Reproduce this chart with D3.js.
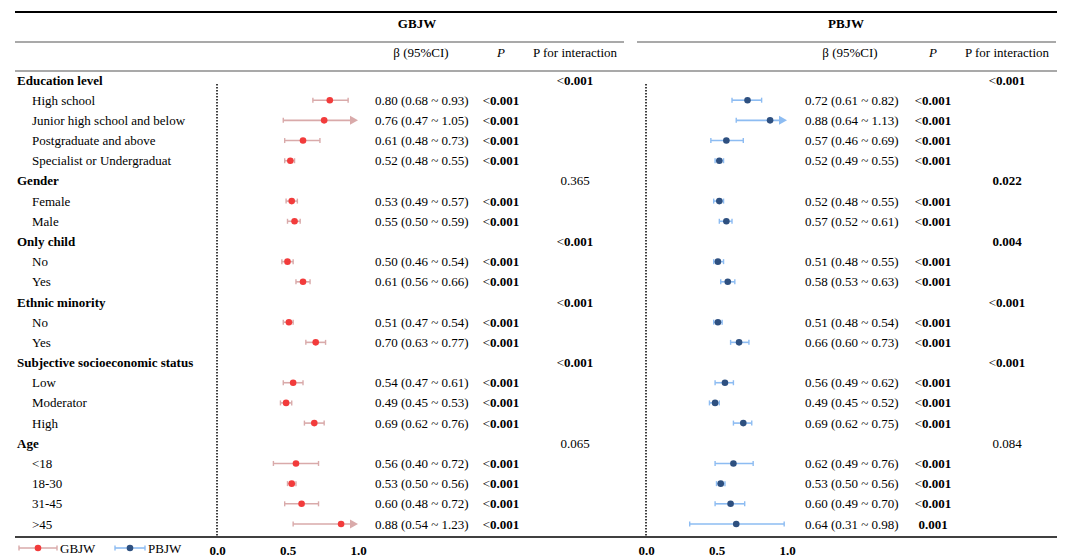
<!DOCTYPE html>
<html>
<head>
<meta charset="utf-8">
<script src="https://cdn.jsdelivr.net/npm/d3@7"></script>
<style>
  body { margin: 0; background: #fff; }
  svg text { font-family: "Liberation Serif", "Times New Roman", serif; font-size: 13px; fill: #000; }
</style>
</head>
<body>
<svg id="chart" width="1080" height="557"></svg>
<script>
// Groups and their levels, read row by row from the table
const groups = ["Education level", "Gender", "Only child", "Ethnic minority",
                "Subjective socioeconomic status", "Age"];
const levels = [
  ["High school", "Junior high school and below", "Postgraduate and above", "Specialist or Undergraduat"],
  ["Female", "Male"],
  ["No", "Yes"],
  ["No", "Yes"],
  ["Low", "Moderator", "High"],
  ["<18", "18-30", "31-45", ">45"]
];

// GBJW estimates
const gbEst  = [0.80, 0.76, 0.61, 0.52, 0.53, 0.55, 0.50, 0.61, 0.51, 0.70, 0.54, 0.49, 0.69, 0.56, 0.53, 0.60, 0.88];
const gbLow  = [0.68, 0.47, 0.48, 0.48, 0.49, 0.50, 0.46, 0.56, 0.47, 0.63, 0.47, 0.45, 0.62, 0.40, 0.50, 0.48, 0.54];
const gbHigh = [0.93, 1.05, 0.73, 0.55, 0.57, 0.59, 0.54, 0.66, 0.54, 0.77, 0.61, 0.53, 0.76, 0.72, 0.56, 0.72, 1.23];
const gbP    = Array(17).fill("<0.001");
const gbInter = ["<0.001", "0.365", "<0.001", "<0.001", "<0.001", "0.065"];

// PBJW estimates
const pbEst  = [0.72, 0.88, 0.57, 0.52, 0.52, 0.57, 0.51, 0.58, 0.51, 0.66, 0.56, 0.49, 0.69, 0.62, 0.53, 0.60, 0.64];
const pbLow  = [0.61, 0.64, 0.46, 0.49, 0.48, 0.52, 0.48, 0.53, 0.48, 0.60, 0.49, 0.45, 0.62, 0.49, 0.50, 0.49, 0.31];
const pbHigh = [0.82, 1.13, 0.69, 0.55, 0.55, 0.61, 0.55, 0.63, 0.54, 0.73, 0.62, 0.52, 0.75, 0.76, 0.56, 0.70, 0.98];
const pbP    = ["<0.001", "<0.001", "<0.001", "<0.001", "<0.001", "<0.001", "<0.001", "<0.001", "<0.001",
                "<0.001", "<0.001", "<0.001", "<0.001", "<0.001", "<0.001", "<0.001", "0.001"];
const pbInter = ["<0.001", "0.022", "0.004", "<0.001", "<0.001", "0.084"];

const xTicks = [0.0, 0.5, 1.0];

// flatten groups + levels into table rows
const rows = [];
let k = 0;
groups.forEach((g, gi) => {
  rows.push({ id: "g" + gi, type: "group", label: g, gi: gi });
  levels[gi].forEach(l => {
    rows.push({ id: "r" + k, type: "item", label: l, i: k });
    k++;
  });
});

const svg = d3.select("#chart");
const y = d3.scalePoint().domain(rows.map(r => r.id)).range([80, 524]);

const panels = [
  { name: "GBJW", est: gbEst, low: gbLow, high: gbHigh, p: gbP, inter: gbInter,
    x: d3.scaleLinear().domain([0, 1]).range([217, 358]),
    textX: 375, pX: 501, interX: 575, headX: 421, lineX: [15, 624],
    dot: "#f23b3b", ci: "#d9aaaa" },
  { name: "PBJW", est: pbEst, low: pbLow, high: pbHigh, p: pbP, inter: pbInter,
    x: d3.scaleLinear().domain([0, 1]).range([646, 787]),
    textX: 805, pX: 933, interX: 1007, headX: 850, lineX: [637, 1056],
    dot: "#2e5080", ci: "#8dbcf2" }
];

// horizontal rules
svg.append("line").attr("x1", 15).attr("x2", 1057).attr("y1", 12).attr("y2", 12)
  .attr("stroke", "#000").attr("stroke-width", 2);
svg.append("line").attr("x1", 15).attr("x2", 1057).attr("y1", 71).attr("y2", 71)
  .attr("stroke", "#555").attr("stroke-width", 1.2);
svg.append("line").attr("x1", 15).attr("x2", 1057).attr("y1", 537).attr("y2", 537)
  .attr("stroke", "#000").attr("stroke-width", 1.5);

// helper to draw "<0.001" with the digits bold
function pText(sel, val, bold) {
  if (val.startsWith("<")) {
    sel.append("tspan").text("<");
    sel.append("tspan").attr("font-weight", bold ? "bold" : "normal").text(val.slice(1));
  } else {
    sel.attr("font-weight", bold ? "bold" : "normal").text(val);
  }
}

// row labels
svg.append("g").selectAll("text").data(rows).join("text")
  .attr("x", d => d.type === "group" ? 17 : 32)
  .attr("y", d => y(d.id))
  .attr("dy", "0.35em")
  .attr("font-weight", d => d.type === "group" ? "bold" : "normal")
  .text(d => d.label);

panels.forEach(pn => {
  const g = svg.append("g");
  const items = rows.filter(r => r.type === "item");
  const grps = rows.filter(r => r.type === "group");

  // headers
  g.append("text").attr("x", pn.headX - 4).attr("y", 28).attr("text-anchor", "middle")
    .attr("font-weight", "bold").text(pn.name);
  g.append("line").attr("x1", pn.lineX[0]).attr("x2", pn.lineX[1]).attr("y1", 42).attr("y2", 42)
    .attr("stroke", "#555").attr("stroke-width", 1.2);
  g.append("text").attr("x", pn.headX).attr("y", 57).attr("text-anchor", "middle").text("β (95%CI)");
  g.append("text").attr("x", pn.pX).attr("y", 57).attr("text-anchor", "middle")
    .attr("font-style", "italic").text("P");
  g.append("text").attr("x", pn.interX).attr("y", 57).attr("text-anchor", "middle").text("P for interaction");

  // reference line at 0
  g.append("line").attr("x1", pn.x(0)).attr("x2", pn.x(0)).attr("y1", 84).attr("y2", 537)
    .attr("stroke", "#000").attr("stroke-width", 1.5).attr("stroke-dasharray", "1.5,1.5");

  // axis
  const axis = d3.axisBottom(pn.x).tickValues(xTicks).tickFormat(d3.format(".1f")).tickSize(0).tickPadding(9);
  const ax = g.append("g").attr("transform", "translate(0,537)").call(axis);
  ax.select(".domain").remove();
  ax.selectAll("text").attr("font-family", "Liberation Serif").attr("font-size", 12)
    .attr("font-weight", "bold").attr("fill", "#000");

  // CI lines (clipped at 1.0 with an arrow)
  items.forEach(r => {
    const i = r.i, yy = y(r.id);
    const lo = pn.x(pn.low[i]);
    const over = pn.high[i] > 1;
    const hi = over ? pn.x(1) : pn.x(pn.high[i]);
    g.append("line").attr("x1", lo).attr("x2", over ? hi - 7 : hi).attr("y1", yy).attr("y2", yy)
      .attr("stroke", pn.ci).attr("stroke-width", 1.6);
    g.append("line").attr("x1", lo).attr("x2", lo).attr("y1", yy - 2.5).attr("y2", yy + 2.5)
      .attr("stroke", pn.ci).attr("stroke-width", 1.4);
    if (over) {
      g.append("path").attr("d", `M${hi},${yy} L${hi - 8},${yy - 4.5} L${hi - 8},${yy + 4.5} Z`)
        .attr("fill", pn.ci);
    } else {
      g.append("line").attr("x1", hi).attr("x2", hi).attr("y1", yy - 2.5).attr("y2", yy + 2.5)
        .attr("stroke", pn.ci).attr("stroke-width", 1.4);
    }
    g.append("circle").attr("cx", pn.x(pn.est[i])).attr("cy", yy).attr("r", 3.3).attr("fill", pn.dot);

    g.append("text").attr("x", pn.textX).attr("y", yy).attr("dy", "0.35em")
      .text(`${pn.est[i].toFixed(2)} (${pn.low[i].toFixed(2)} ~ ${pn.high[i].toFixed(2)})`);
    g.append("text").attr("x", pn.pX).attr("y", yy).attr("dy", "0.35em").attr("text-anchor", "middle")
      .call(s => pText(s, pn.p[i], true));
  });

  // interaction p-values on group rows
  grps.forEach(r => {
    const v = pn.inter[r.gi];
    const sig = v.startsWith("<") || parseFloat(v) < 0.05;
    g.append("text").attr("x", pn.interX).attr("y", y(r.id)).attr("dy", "0.35em").attr("text-anchor", "middle")
      .call(s => pText(s, v, sig));
  });
});

// legend
const legend = [
  { name: "GBJW", x1: 19, x2: 57, dot: "#f23b3b", ci: "#d9aaaa" },
  { name: "PBJW", x1: 115, x2: 145, dot: "#2e5080", ci: "#8dbcf2" }
];
const lg = svg.append("g");
legend.forEach(l => {
  const ly = 548;
  lg.append("line").attr("x1", l.x1).attr("x2", l.x2).attr("y1", ly).attr("y2", ly)
    .attr("stroke", l.ci).attr("stroke-width", 1.6);
  [l.x1, l.x2].forEach(cx => lg.append("line").attr("x1", cx).attr("x2", cx)
    .attr("y1", ly - 2.5).attr("y2", ly + 2.5).attr("stroke", l.ci).attr("stroke-width", 1.4));
  lg.append("circle").attr("cx", (l.x1 + l.x2) / 2).attr("cy", ly).attr("r", 3.3).attr("fill", l.dot);
  lg.append("text").attr("x", l.x2 + 3).attr("y", ly).attr("dy", "0.35em").attr("font-size", 12).text(l.name);
});
</script>
</body>
</html>
